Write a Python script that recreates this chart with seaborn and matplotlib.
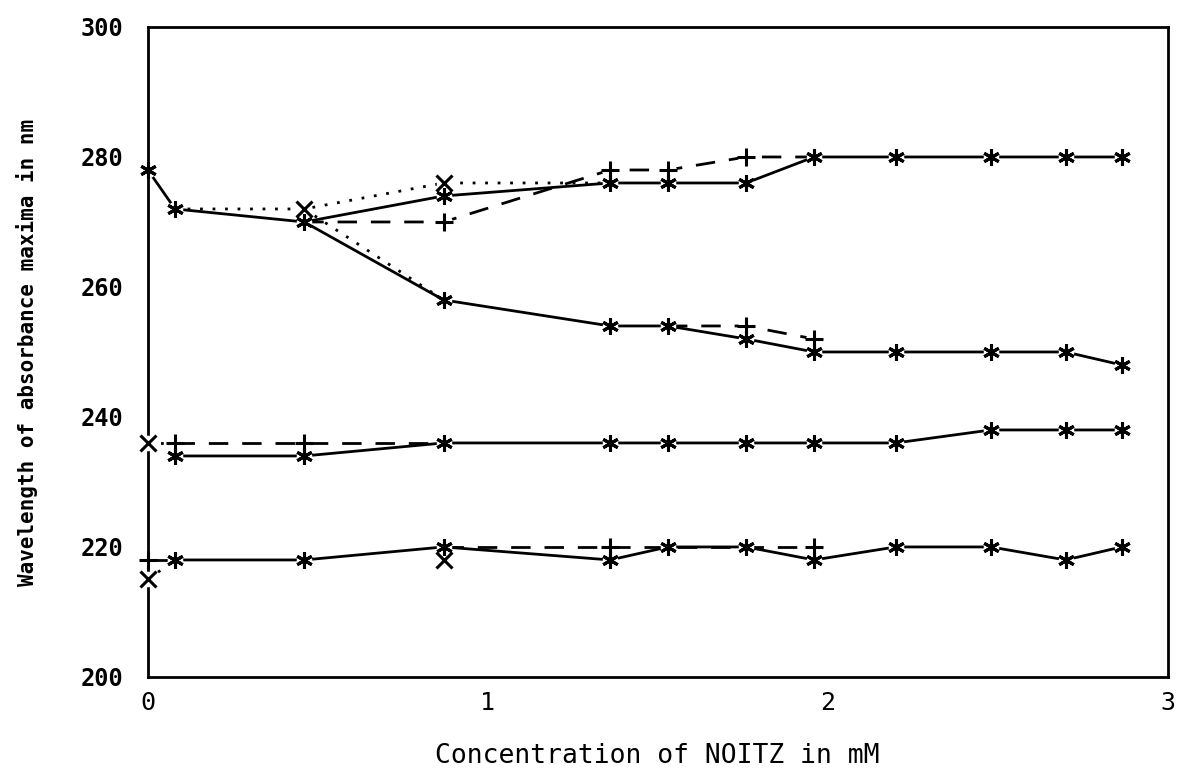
import matplotlib
matplotlib.use("Agg")
import matplotlib.pyplot as plt
import seaborn as sns
import pandas as pd

sns.set_theme(style="white")
plt.rcParams["font.family"] = ["DejaVu Sans Mono", "DejaVu Sans"]

# Concentrations (mM) at which spectra were recorded
conc = [0, 0.08, 0.46, 0.87, 1.36, 1.53, 1.76, 1.96, 2.2, 2.48, 2.7, 2.865]

# Solid series (asterisk markers)
solid_a_x = conc
solid_a_y = [278, 272, 270, 274, 276, 276, 276, 280, 280, 280, 280, 280]
solid_b_x = conc[2:]
solid_b_y = [270, 258, 254, 254, 252, 250, 250, 250, 250, 248]
solid_c_x = conc[1:]
solid_c_y = [234, 234, 236, 236, 236, 236, 236, 236, 238, 238, 238]
solid_d_x = conc[1:]
solid_d_y = [218, 218, 220, 218, 220, 220, 218, 220, 220, 218, 220]

# Dashed series (plus markers)
dash_a_x = [0.46, 0.87, 1.36, 1.53, 1.76, 1.96]
dash_a_y = [270, 270, 278, 278, 280, 280]
dash_b_x = [1.53, 1.76, 1.96]
dash_b_y = [254, 254, 252]
dash_c_x = [0.08, 0.46, 0.87]
dash_c_y = [236, 236, 236]
dash_d_x = [0, 0.08]
dash_d_y = [218, 218]
dash_e_x = [0.87, 1.36, 1.53, 1.76, 1.96]
dash_e_y = [220, 220, 220, 220, 220]

# Dotted series (cross markers)
dot_a_x = [0.08, 0.46, 0.87, 1.36]
dot_a_y = [272, 272, 276, 276]
dot_b_x = [0.46, 0.87]
dot_b_y = [272, 258]
dot_c_x = [0, 0.08]
dot_c_y = [236, 236]
dot_d_x = [0, 0.08]
dot_d_y = [215, 218]
dot_e_x = [0.87]
dot_e_y = [218]

fig = plt.figure(figsize=(11.83, 7.71), dpi=100)
ax = fig.add_axes([0.125, 0.122, 0.862, 0.843])

AST = (6, 2, 0)
lw = 2.0


def draw(xs, ys, ls, marker, mark_idx, msize=13, mew=2.2):
    df = pd.DataFrame({"x": xs, "y": ys})
    if len(xs) > 1:
        sns.lineplot(data=df, x="x", y="y", ax=ax, color="black", lw=lw,
                     linestyle=ls, sort=False, estimator=None, zorder=2)
    if mark_idx:
        pts = df.iloc[mark_idx]
        # white halo so the line stops short of each symbol
        ax.plot(pts["x"], pts["y"], linestyle="none", marker="o",
                ms=msize * 0.85, mfc="white", mec="white", zorder=3,
                clip_on=False)
        ax.plot(pts["x"], pts["y"], linestyle="none", marker=marker,
                ms=msize, mec="black", mfc="black", mew=mew, zorder=4,
                clip_on=False)


# dotted
draw(dot_a_x, dot_a_y, (0, (1, 3.5)), "x", [1, 2], msize=12)
draw(dot_b_x, dot_b_y, (0, (1, 3.5)), "x", [])
draw(dot_c_x, dot_c_y, (0, (1, 3.5)), "x", [0], msize=12)
draw(dot_d_x, dot_d_y, (0, (1, 3.5)), "x", [0], msize=12)
draw(dot_e_x, dot_e_y, (0, (1, 3.5)), "x", [0], msize=12)

# dashed
draw(dash_a_x, dash_a_y, (0, (7, 5)), "+", [1, 2, 3, 4])
draw(dash_b_x, dash_b_y, (0, (7, 5)), "+", [1, 2])
draw(dash_c_x, dash_c_y, (0, (7, 5)), "+", [0, 1])
draw(dash_d_x, dash_d_y, (0, (7, 5)), "+", [0])
draw(dash_e_x, dash_e_y, (0, (7, 5)), "+", [1, 4])

# solid
draw(solid_a_x, solid_a_y, "-", AST, list(range(len(solid_a_x))), msize=12)
draw(solid_b_x, solid_b_y, "-", AST, list(range(1, len(solid_b_x))), msize=12)
draw(solid_c_x, solid_c_y, "-", AST, list(range(len(solid_c_x))), msize=12)
draw(solid_d_x, solid_d_y, "-", AST, list(range(len(solid_d_x))), msize=12)

ax.set_xlim(0, 3)
ax.set_ylim(200, 300)
ax.set_xticks([0, 1, 2, 3])
ax.set_yticks([200, 220, 240, 260, 280, 300])
ax.set_xticklabels(["0", "1", "2", "3"], fontsize=18)
ax.set_yticklabels(["200", "220", "240", "260", "280", "300"],
                   fontsize=17, fontweight="bold")
ax.tick_params(axis="both", direction="in", length=14, width=1.8,
               color="black", labelcolor="black")
ax.tick_params(axis="y", pad=18)
ax.tick_params(axis="x", pad=10)
for sp in ax.spines.values():
    sp.set_color("black")
    sp.set_linewidth(2.0)

ax.set_xlabel("Concentration of NOITZ in mM", fontsize=19, color="black",
              labelpad=20)
ax.set_ylabel("Wavelength of absorbance maxima in nm", fontsize=15,
              fontweight="bold", color="black", labelpad=30)

fig.savefig("out.png", dpi=100, facecolor="white")
